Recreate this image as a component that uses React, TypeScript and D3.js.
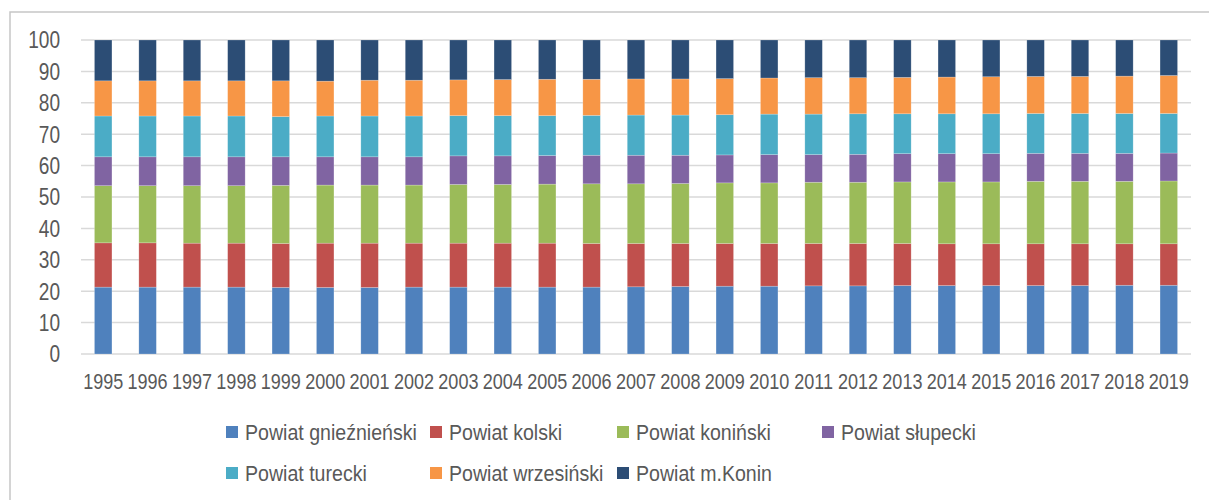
import React from "react";
import * as d3 from "d3";

const years = [
  "1995", "1996", "1997", "1998", "1999", "2000", "2001", "2002", "2003",
  "2004", "2005", "2006", "2007", "2008", "2009", "2010", "2011", "2012",
  "2013", "2014", "2015", "2016", "2017", "2018", "2019",
];

const seriesNames = [
  "Powiat gnieźnieński",
  "Powiat kolski",
  "Powiat koniński",
  "Powiat słupecki",
  "Powiat turecki",
  "Powiat wrzesiński",
  "Powiat m.Konin",
];

const colors = ["#4F81BD", "#C0504D", "#9BBB59", "#8064A2", "#4BACC6", "#F79646", "#2C4D75"];

// share of each powiat (%) per year
const gniezno = [21.3, 21.3, 21.3, 21.3, 21.2, 21.2, 21.2, 21.3, 21.3, 21.3, 21.3, 21.3, 21.4, 21.5, 21.6, 21.6, 21.7, 21.7, 21.8, 21.8, 21.8, 21.8, 21.8, 21.9, 21.9];
const kolski = [14.1, 14.1, 14.0, 14.0, 14.0, 14.1, 14.1, 14.0, 14.0, 14.0, 14.0, 13.9, 13.8, 13.7, 13.6, 13.6, 13.5, 13.5, 13.4, 13.3, 13.3, 13.3, 13.3, 13.2, 13.2];
const koninski = [18.2, 18.2, 18.3, 18.3, 18.5, 18.5, 18.5, 18.5, 18.7, 18.7, 18.8, 19.0, 19.0, 19.1, 19.3, 19.3, 19.5, 19.5, 19.6, 19.7, 19.7, 19.9, 19.9, 19.9, 20.0];
const slupecki = [9.2, 9.2, 9.2, 9.2, 9.1, 9.0, 9.0, 9.0, 9.1, 9.1, 9.1, 9.1, 9.1, 9.0, 8.9, 9.0, 8.8, 8.9, 9.0, 9.0, 9.0, 8.9, 8.9, 8.9, 8.9];
const turecki = [13.0, 13.0, 13.0, 13.0, 12.8, 13.0, 13.0, 13.0, 12.8, 12.8, 12.7, 12.7, 12.8, 12.8, 12.8, 12.9, 12.9, 12.9, 12.7, 12.7, 12.7, 12.7, 12.7, 12.7, 12.6];
const wrzesinski = [11.2, 11.2, 11.2, 11.2, 11.4, 11.1, 11.4, 11.4, 11.4, 11.5, 11.6, 11.5, 11.5, 11.5, 11.5, 11.5, 11.6, 11.5, 11.6, 11.7, 11.8, 11.8, 11.8, 11.9, 12.1];
const konin = [13.0, 13.0, 13.0, 13.0, 13.0, 13.1, 12.8, 12.8, 12.7, 12.6, 12.5, 12.5, 12.4, 12.4, 12.3, 12.1, 12.0, 12.0, 11.9, 11.8, 11.7, 11.6, 11.6, 11.5, 11.3];

const yTicks = [0, 10, 20, 30, 40, 50, 60, 70, 80, 90, 100];

const FONT = "'Liberation Sans', Arial, sans-serif";

// no narrow font installed, so squeeze regular sans horizontally
const Narrow = ({ x, y, sx, size, anchor, children }: any) => (
  <text
    transform={`translate(${x},${y}) scale(${sx},1)`}
    textAnchor={anchor || "start"}
    fontSize={size}
    fill="#595959"
  >
    {children}
  </text>
);

export default function App() {
  const width = 1209;
  const height = 500;
  const allSeries = [gniezno, kolski, koninski, slupecki, turecki, wrzesinski, konin];

  const rows = years.map((yr, i) => {
    const row: any = { year: yr };
    seriesNames.forEach((n, k) => (row[n] = allSeries[k][i]));
    return row;
  });

  const stacked = d3.stack().keys(seriesNames)(rows);

  const x = d3.scaleBand().domain(years).range([81, 1191]).paddingInner(0.606).paddingOuter(0.303);
  const y = d3.scaleLinear().domain([0, 100]).range([354, 40]);

  const legendCols = [226, 430, 617, 822];

  return (
    <div style={{ position: "absolute", left: 0, top: 0 }}>
      <svg width={width} height={height} style={{ display: "block", fontFamily: FONT }}>
        <rect x={0} y={0} width={width} height={height} fill="#fff" />
        <rect x={10} y={12} width={1300} height={600} fill="none" stroke="#c6c6c6" strokeWidth={1.5} />

        {/* grid */}
        {yTicks.map((t) => (
          <line key={t} x1={81} x2={1191} y1={y(t)} y2={y(t)} stroke="#d9d9d9" strokeWidth={1.5} />
        ))}
        {yTicks.map((t) => (
          <Narrow key={"l" + t} x={60} y={y(t) + 8.3} sx={0.83} size={23} anchor="end">
            {t}
          </Narrow>
        ))}

        {/* bars */}
        {stacked.map((s, k) => (
          <g key={s.key} fill={colors[k]}>
            {s.map((d: any) => (
              <rect
                key={d.data.year}
                x={x(d.data.year)}
                y={y(d[1])}
                width={x.bandwidth()}
                height={y(d[0]) - y(d[1])}
                stroke="#ffffff"
                strokeOpacity={0.35}
                strokeWidth={0.6}
              />
            ))}
          </g>
        ))}

        {years.map((yr) => (
          <Narrow key={yr} x={(x(yr) as number) + x.bandwidth() / 2} y={389} sx={0.82} size={22} anchor="middle">
            {yr}
          </Narrow>
        ))}

        {/* legend */}
        {seriesNames.map((n, k) => {
          const lx = legendCols[k % 4];
          const ly = k < 4 ? 426 : 467;
          return (
            <g key={n} transform={`translate(${lx},${ly})`}>
              <rect x={0} y={0} width={12} height={12} fill={colors[k]} />
              <Narrow x={19} y={14} sx={0.89} size={22}>
                {n}
              </Narrow>
            </g>
          );
        })}
      </svg>
    </div>
  );
}
